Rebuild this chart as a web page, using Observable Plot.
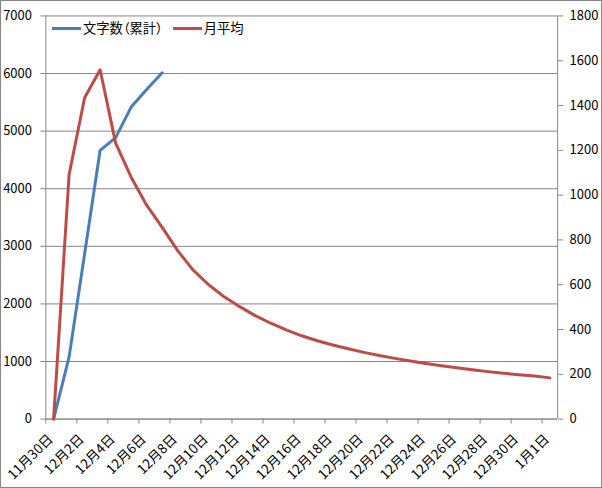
<!DOCTYPE html>
<html><head><meta charset="utf-8">
<script src="https://cdn.jsdelivr.net/npm/d3@7"></script>
<script src="https://cdn.jsdelivr.net/npm/@observablehq/plot@0.6"></script>
<style>
body{margin:0;background:#fff}
#chart{position:relative;width:602px;height:488px;box-sizing:border-box;border:1px solid #868686;overflow:hidden;background:#fff}
#chart svg{position:absolute;left:-1px;top:-1px}
#legend{position:absolute;left:51px;top:18px;display:flex;align-items:center;font-family:'Noto Sans CJK JP';font-size:13.3px;font-feature-settings:"palt";color:#000;line-height:18px}
#legend .sw{display:inline-block;width:29px;height:3px;margin-right:2px}
#legend .it{display:flex;align-items:center;margin-right:10px}
</style></head><body><div id="chart"><div id="legend"></div></div>
<script>
const categories = ["11月30日","12月1日","12月2日","12月3日","12月4日","12月5日","12月6日","12月7日","12月8日","12月9日","12月10日","12月11日","12月12日","12月13日","12月14日","12月15日","12月16日","12月17日","12月18日","12月19日","12月20日","12月21日","12月22日","12月23日","12月24日","12月25日","12月26日","12月27日","12月28日","12月29日","12月30日","12月31日","1月1日"];
const seriesNames = ["文字数（累計）","月平均"];
const seriesColors = ["#4A7EBB","#BE4B48"];
const cumulative = [0,1080,2870,4667,4886,5418,5724,6012];
const monthlyAvg = [0,1092,1435,1560,1232,1080,955,856,752,665,600,546,502,462,428,398,372,350,331,314,298,284,271,259,248,238,229,220,212,205,198,192,184];
const leftTicks = [0,1000,2000,3000,4000,5000,6000,7000];
const rightTicks = [0,200,400,600,800,1000,1200,1400,1600,1800];
const leftMax = 7000, rightMax = 1800;

const k = leftMax / rightMax;
const blueData = cumulative.map((v, i) => ({i, v}));
const redData = monthlyAvg.map((v, i) => ({i, v: v * k}));
const n = categories.length;
const boundaryTicks = d3.range(-0.5, n - 0.5, 2);
const labelTicks = d3.range(0, n, 2);
const gray = "#868686";

const chart = Plot.plot({
  width: 602, height: 488,
  marginLeft: 45.5, marginRight: 43, marginTop: 15.5, marginBottom: 68,
  x: {type: "linear", domain: [-0.5, n - 0.5]},
  y: {domain: [0, leftMax]},
  style: {fontFamily: "'Noto Sans CJK JP'", fontSize: "13px", color: "#000", background: "transparent"},
  marks: [
    Plot.gridY(leftTicks, {stroke: gray, strokeOpacity: 1}),
    Plot.ruleX([-0.5, n - 0.5], {stroke: gray}),
    Plot.ruleY([0], {stroke: gray}),
    Plot.axisY(leftTicks, {anchor: "left", tickSize: 5, tickPadding: 9, stroke: gray, fill: "#000", fontSize: 13, label: null, tickFormat: d => String(d)}),
    Plot.axisY(rightTicks.map(v => v * k), {anchor: "right", tickSize: 5, tickPadding: 7, stroke: gray, fill: "#000", fontSize: 13, label: null, tickFormat: d => String(Math.round(d / k))}),
    Plot.axisX(boundaryTicks, {anchor: "bottom", tickSize: 5, stroke: gray, tickFormat: () => "", label: null}),
    Plot.text(labelTicks, {x: d => d, y: () => 0, text: d => categories[d], rotate: -45, textAnchor: "end", dx: -3, dy: 18, fontSize: 13.5, fill: "#000"}),
    Plot.lineY(blueData, {x: "i", y: "v", stroke: seriesColors[0], strokeWidth: 3, strokeLinejoin: "round"}),
    Plot.lineY(redData, {x: "i", y: "v", stroke: seriesColors[1], strokeWidth: 3, strokeLinejoin: "round"})
  ]
});
document.getElementById("chart").insertBefore(chart, document.getElementById("legend"));
const legend = document.getElementById("legend");
seriesNames.forEach((name, j) => {
  const it = document.createElement("span");
  it.className = "it";
  it.innerHTML = `<span class="sw" style="background:${seriesColors[j]}"></span><span>${name}</span>`;
  legend.appendChild(it);
});
</script>
</body></html>
